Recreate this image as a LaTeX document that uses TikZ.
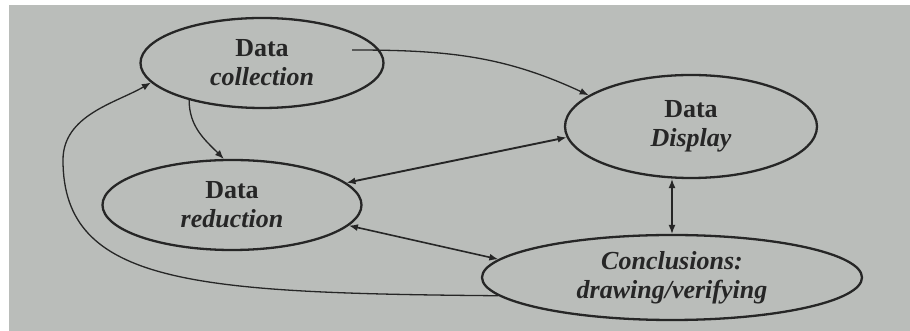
\documentclass[tikz,border=0pt]{standalone}
\usepackage{fontspec}
\setmainfont{Liberation Serif}
\usetikzlibrary{shapes.geometric,arrows.meta,calc}
\definecolor{paper}{HTML}{BABDBA}
\definecolor{ink}{HTML}{262626}
\begin{document}
\begin{tikzpicture}[x=1pt,y=1pt,
  stage/.style={ellipse,draw=ink,line width=2.3pt,inner sep=0pt,align=center,
    text=ink,font=\fontsize{26}{29}\selectfont\bfseries},
  thin/.style={draw=ink,line width=1.3pt,-{Latex[length=9pt,width=7pt]}},
  twin/.style={draw=ink,line width=1.6pt,{Latex[length=9pt,width=7pt]}-{Latex[length=9pt,width=7pt]}}]
\useasboundingbox (0,0) rectangle (910,331);
\fill[white] (0,0) rectangle (910,331);
\fill[paper] (9,0) rectangle (910,326);
% stages
\node[stage,minimum width=243pt,minimum height=90pt] (coll) at (262,268)
  {Data\\\textit{collection}};
\node[stage,minimum width=259pt,minimum height=90pt] (red) at (232,126)
  {Data\\\textit{reduction}};
\node[stage,minimum width=252pt,minimum height=103pt] (disp) at (691,204.5)
  {Data\\\textit{Display}};
\node[stage,minimum width=380pt,minimum height=85pt] (conc) at (672,53.5)
  {\textit{Conclusions:}\\\textit{drawing/verifying}};
% connectors
\draw[thin] ($(coll.center)+(90,13)$) to[out=0,in=155] (disp.163);
\draw[thin] (coll.207) to[out=270,in=135] (red.100);
\draw[twin,line width=1.9pt] (red.11) -- (disp.185);
\draw[twin] (red.-10) -- (conc.174);
\draw[twin,line width=1.3pt] (conc.north) -- (conc.north |- disp.south);
\draw[thin] (conc.186) .. controls (195,38) and (63,46) .. (63,171)
  .. controls (63,216) and (116,228) .. (coll.190);
\end{tikzpicture}
\end{document}
